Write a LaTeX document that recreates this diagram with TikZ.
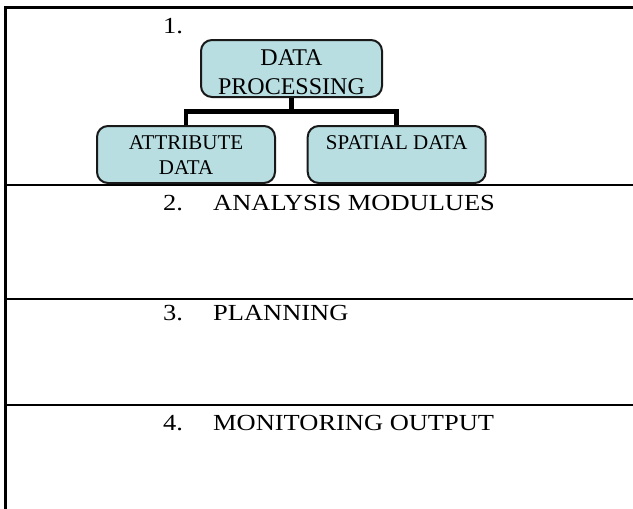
\documentclass[tikz,border=0pt]{standalone}
\usepackage{fontspec}
\setmainfont{Liberation Serif}
\usepackage{tikz}
\usetikzlibrary{positioning,calc}
\definecolor{boxfill}{RGB}{184,222,225}
\newcommand{\boxlines}[2]{\raisebox{#1}[\height][\depth]{\begin{tabular}{@{}c@{}}#2\end{tabular}}}

\begin{document}
\begin{tikzpicture}[
    x=1pt, y=-1pt,
    rowline/.style={line width=2.2pt},
    heading/.style={anchor=base west, inner sep=0pt, font=\fontsize{23}{27}\selectfont},
    topbox/.style={rectangle, draw=black!90, line width=2pt, fill=boxfill, rounded corners=11pt, inner sep=0pt, minimum width=181pt, minimum height=57pt, font=\fontsize{24}{28.5}\selectfont},
    leafbox/.style={rectangle, draw=black!90, line width=2pt, fill=boxfill, rounded corners=11pt, inner sep=0pt, minimum width=178pt, minimum height=57pt, font=\fontsize{21}{25.7}\selectfont},
    tree/.style={draw, line width=4.8pt}
]
\useasboundingbox (0,0) rectangle (633,509);

\draw[rowline] (633,7.5) -- (5.5,7.5) -- (5.5,509);
\draw[rowline] (5.5,185) -- (633,185);
\draw[rowline] (5.5,299) -- (633,299);
\draw[rowline] (5.5,405) -- (633,405);

\node[heading] (n1) at (163,33) {\scalebox{1.15}[1]{1.}};
\node[topbox] (dp) at (291.5,68.5) {\boxlines{-5.7pt}{DATA\\PROCESSING}};
\node[leafbox] (attr) at (186,154.5) {\boxlines{-2.5pt}{ATTRIBUTE\\DATA}};
\node[leafbox] (spatial) at (396.7,154.5) {\boxlines{-2.5pt}{SPATIAL DATA\\\mbox{}}};

\draw[tree] (dp.south) -- ++(0,13.5) -| (attr.north);
\draw[tree] (dp.south) -- ++(0,13.5) -| (spatial.north);

\node[heading] (analysis) at (163,210) {\scalebox{1.15}[1]{\makebox[43.5pt][l]{2.}ANALYSIS MODULUES}};
\node[heading] (planning) at (163,320) {\scalebox{1.15}[1]{\makebox[43.5pt][l]{3.}PLANNING}};
\node[heading] (monitor) at (163,430) {\scalebox{1.15}[1]{\makebox[43.5pt][l]{4.}MONITORING OUTPUT}};
\end{tikzpicture}
\end{document}
